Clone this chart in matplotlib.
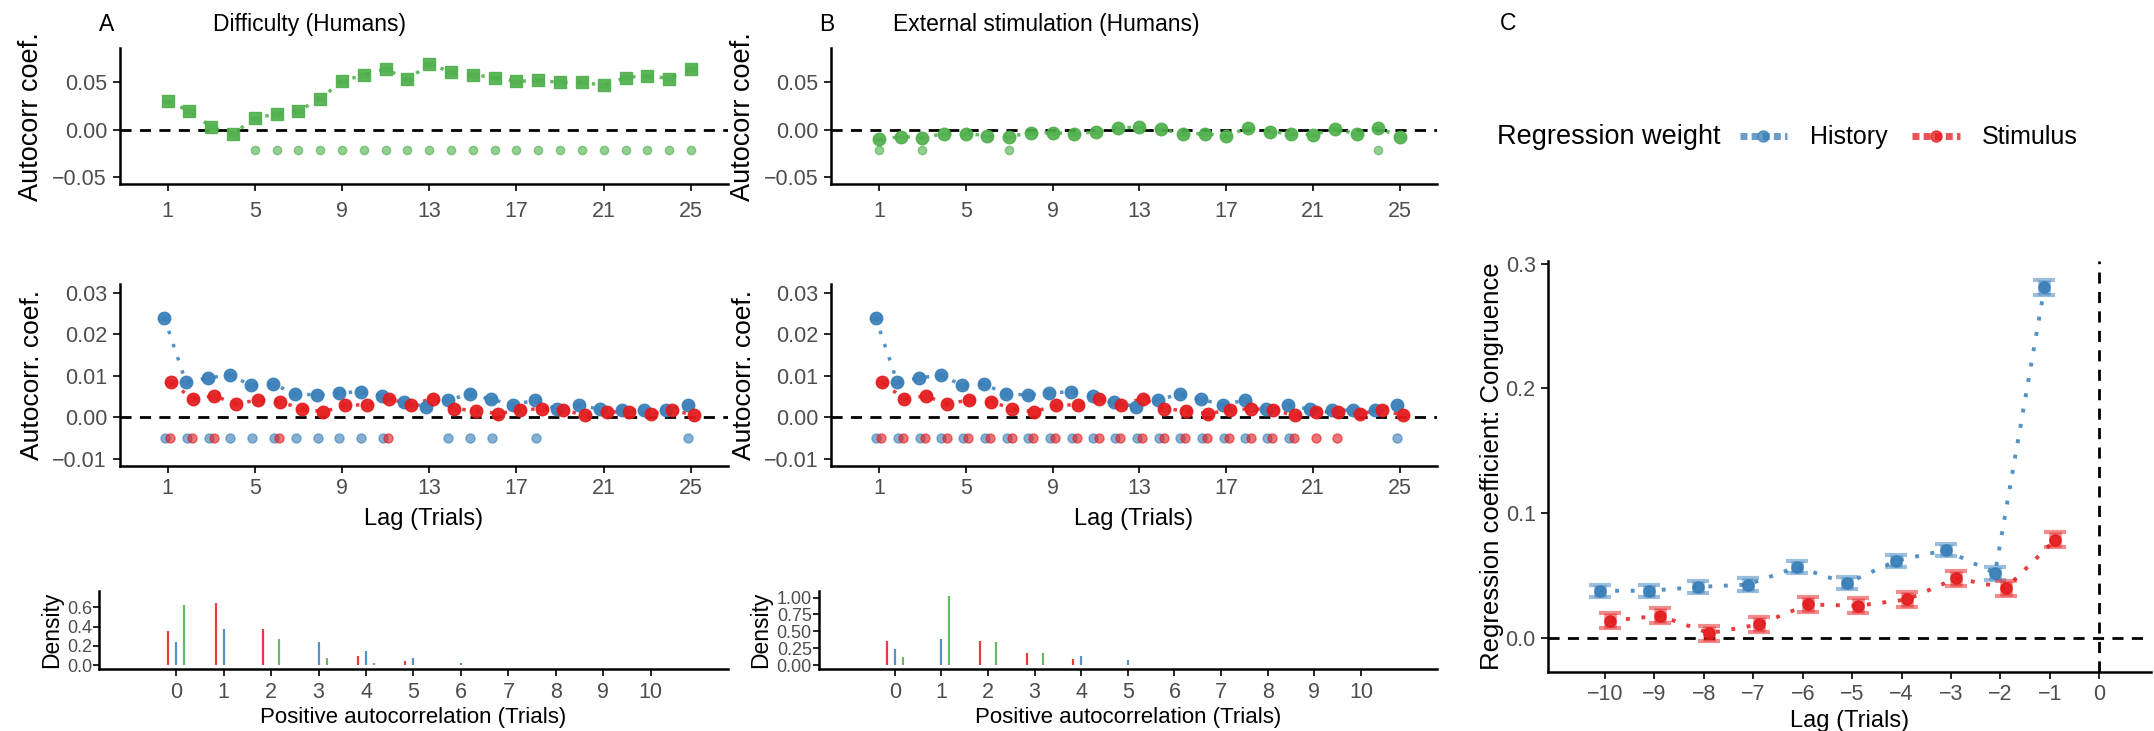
import numpy as np
import matplotlib.pyplot as plt
from matplotlib.lines import Line2D

plt.rcParams['font.family'] = ['Liberation Sans Narrow', 'Liberation Sans', 'DejaVu Sans']

BLUE = '#377EB8'
RED = '#E41A1C'
GREEN = '#4DAF4A'
TICK_GREY = '#4D4D4D'

# ---- data ----
lags = np.arange(1, 26)

diff_coef = [0.030, 0.020, 0.003, -0.004, 0.012, 0.017, 0.020, 0.033, 0.051, 0.058,
             0.064, 0.053, 0.069, 0.061, 0.058, 0.055, 0.051, 0.052, 0.050, 0.050,
             0.047, 0.055, 0.057, 0.054, 0.064]
diff_sig = list(range(5, 26))

ext_coef = [-0.010, -0.007, -0.008, -0.004, -0.004, -0.006, -0.007, -0.003, -0.003, -0.004,
            -0.002, 0.002, 0.003, 0.001, -0.004, -0.004, -0.006, 0.002, -0.002, -0.004,
            -0.005, 0.001, -0.004, 0.002, -0.007]
ext_sig = [1, 3, 7, 24]

hist_coef = [0.0240, 0.0084, 0.0095, 0.0101, 0.0077, 0.0080, 0.0056, 0.0054, 0.0058, 0.0062,
             0.0051, 0.0037, 0.0025, 0.0041, 0.0056, 0.0043, 0.0030, 0.0041, 0.0019, 0.0029,
             0.0019, 0.0017, 0.0017, 0.0017, 0.0029]
stim_coef = [0.0084, 0.0045, 0.0051, 0.0033, 0.0041, 0.0037, 0.0021, 0.0013, 0.0029, 0.0030,
             0.0045, 0.0030, 0.0045, 0.0021, 0.0015, 0.0009, 0.0017, 0.0021, 0.0017, 0.0005,
             0.0013, 0.0013, 0.0009, 0.0017, 0.0005]
hist_sig_a = [1, 2, 3, 4, 5, 6, 7, 8, 9, 10, 11, 14, 15, 16, 18, 25]
stim_sig_a = [1, 2, 3, 6, 11]
hist_sig_b = list(range(1, 21)) + [25]
stim_sig_b = list(range(1, 23))

# density of positive autocorrelation length
dens_x = np.arange(0, 11)
dens_a_stim = [0.355, 0.64, 0.377, 0, 0.095, 0.04, 0, 0, 0, 0, 0]
dens_a_hist = [0.24, 0.377, 0, 0.24, 0.15, 0.075, 0.025, 0, 0, 0, 0]
dens_a_diff = [0.62, 0, 0.267, 0.08, 0.02, 0, 0, 0, 0, 0, 0]
dens_b_stim = [0.36, 0, 0.36, 0.176, 0.086, 0, 0, 0, 0, 0, 0]
dens_b_hist = [0.235, 0.39, 0, 0, 0.137, 0.07, 0, 0, 0, 0, 0]
dens_b_ext = [0.125, 1.02, 0.345, 0.176, 0, 0, 0, 0, 0, 0, 0]

# panel C regression weights
lag_c = np.arange(-10, 0)
hist_c = [0.038, 0.038, 0.041, 0.043, 0.057, 0.044, 0.062, 0.0705, 0.052, 0.281]
hist_c_err = [0.005, 0.005, 0.005, 0.005, 0.005, 0.005, 0.005, 0.005, 0.005, 0.006]
stim_c = [0.014, 0.018, 0.004, 0.011, 0.027, 0.026, 0.031, 0.048, 0.040, 0.079]
stim_c_err = [0.006, 0.006, 0.006, 0.006, 0.006, 0.006, 0.006, 0.006, 0.006, 0.006]

W, H = 1568.0, 532.0


def box(l, r, t, b):
    return [l / W, 1 - b / H, (r - l) / W, (b - t) / H]


def style(ax):
    for s in ['top', 'right']:
        ax.spines[s].set_visible(False)
    for s in ['left', 'bottom']:
        ax.spines[s].set_linewidth(1.8)
    ax.tick_params(axis='both', labelsize=15.5, colors='black', labelcolor=TICK_GREY,
                   width=1.2, length=5, pad=4)


def fmt(v, d):
    s = f'{v:.{d}f}'
    return s.replace('-', '\u2212')


def points(ax, x, y, color, err, marker='o', ms=9):
    ax.plot(x, y, linestyle=(0, (1, 3)), color=color, lw=2.5, alpha=0.85, zorder=2)
    ax.errorbar(x, y, yerr=err, fmt='none', ecolor=color, elinewidth=8, alpha=0.5, zorder=3)
    ax.plot(x, y, marker, color=color, ms=ms, alpha=0.9, zorder=4, lw=0)


fig = plt.figure(figsize=(21.54, 7.31), dpi=100)


def top_panel(left, right, coef, sig, color, marker, err):
    ax = fig.add_axes(box(left, right, 35, 134))
    ax.axhline(0, color='black', ls=(0, (4, 3)), lw=2, zorder=1)
    points(ax, lags, coef, color, err, marker=marker, ms=9)
    ax.plot(sig, [-0.021] * len(sig), 'o', color=color, ms=6, alpha=0.6, lw=0)
    ax.set_xlim(-1.2, 26.7)
    ax.set_ylim(-0.057, 0.086)
    ax.set_xticks([1, 5, 9, 13, 17, 21, 25])
    ax.set_yticks([-0.05, 0, 0.05])
    ax.set_yticklabels([fmt(v, 2) for v in [-0.05, 0, 0.05]])
    ax.set_ylabel('Autocorr coef.', fontsize=19.5, labelpad=6)
    style(ax)
    ax.tick_params(axis='x', pad=7)
    return ax


def mid_panel(left, right, hs, ss):
    ax = fig.add_axes(box(left, right, 207, 339))
    ax.axhline(0, color='black', ls=(0, (4, 3)), lw=2, zorder=1)
    points(ax, lags - 0.15, hist_coef, BLUE, 0.0009)
    points(ax, lags + 0.15, stim_coef, RED, 0.0009)
    ax.plot(np.array(hs) - 0.12, [-0.005] * len(hs), 'o', color=BLUE, ms=6.5, alpha=0.6, lw=0)
    ax.plot(np.array(ss) + 0.12, [-0.005] * len(ss), 'o', color=RED, ms=6.5, alpha=0.6, lw=0)
    ax.set_xlim(-1.2, 26.7)
    ax.set_ylim(-0.0117, 0.032)
    ax.set_xticks([1, 5, 9, 13, 17, 21, 25])
    yt = [-0.01, 0, 0.01, 0.02, 0.03]
    ax.set_yticks(yt)
    ax.set_yticklabels([fmt(v, 2) for v in yt])
    ax.set_ylabel('Autocorr. coef.', fontsize=19, labelpad=6)
    ax.set_xlabel('Lag (Trials)', fontsize=17, labelpad=6)
    style(ax)
    return ax


def dens_panel(left, right, stim, hist, third, yt, dec, ylim):
    ax = fig.add_axes(box(left, right, 430, 487))
    ax.vlines(dens_x - 0.17, 0, stim, color=RED, lw=1.6, alpha=0.85)
    ax.vlines(dens_x, 0, hist, color=BLUE, lw=1.6, alpha=0.85)
    ax.vlines(dens_x + 0.17, 0, third, color=GREEN, lw=1.6, alpha=0.85)
    ax.set_xlim(-1.63, 11.63)
    ax.set_ylim(*ylim)
    ax.set_xticks(range(0, 11))
    ax.set_yticks(yt)
    ax.set_yticklabels([fmt(v, dec) for v in yt])
    ax.set_ylabel('Density', fontsize=16.5, labelpad=3)
    ax.set_xlabel('Positive autocorrelation (Trials)', fontsize=16, labelpad=3)
    style(ax)
    ax.tick_params(axis='y', labelsize=13, pad=1, length=4)
    return ax


# panel A
top_panel(87, 530, diff_coef, diff_sig, GREEN, 's', 0.003)
mid_panel(87, 530, hist_sig_a, stim_sig_a)
dens_panel(72, 530, dens_a_stim, dens_a_hist, dens_a_diff, [0, 0.2, 0.4, 0.6], 1, (-0.04, 0.77))

# panel B
top_panel(605, 1046, ext_coef, ext_sig, GREEN, 'o', 0.002)
mid_panel(605, 1046, hist_sig_b, stim_sig_b)
dens_panel(596, 1046, dens_b_stim, dens_b_hist, dens_b_ext, [0, 0.25, 0.5, 0.75, 1.0], 2,
           (-0.06, 1.1))

fig.text(72 / W, 1 - 18 / H, 'A', fontsize=16.5, va='center')
fig.text(155 / W, 1 - 18 / H, 'Difficulty (Humans)', fontsize=16.5, va='center')
fig.text(596 / W, 1 - 18 / H, 'B', fontsize=16.5, va='center')
fig.text(650 / W, 1 - 18 / H, 'External stimulation (Humans)', fontsize=16.5, va='center')
fig.text(1092 / W, 1 - 17 / H, 'C', fontsize=16.5, va='center')

# panel C
axc = fig.add_axes(box(1127, 1566, 190, 489))
axc.axhline(0, color='black', ls=(0, (4, 3)), lw=2, zorder=1)
axc.axvline(0, color='black', ls=(0, (4, 3)), lw=2, zorder=1)
for x, y, e, c in [(lag_c - 0.11, hist_c, hist_c_err, BLUE), (lag_c + 0.11, stim_c, stim_c_err, RED)]:
    axc.plot(x, y, linestyle=(0, (1, 3)), color=c, lw=2.8, alpha=0.85, zorder=2)
    axc.errorbar(x, y, yerr=e, fmt='none', ecolor=c, elinewidth=9, capsize=8, capthick=3,
                 alpha=0.5, zorder=3)
    axc.plot(x, y, 'o', color=c, ms=8, alpha=0.9, zorder=4, lw=0)
axc.set_xlim(-11.15, 1.05)
axc.set_ylim(-0.027, 0.302)
axc.set_xticks(range(-10, 1))
axc.set_xticklabels([fmt(v, 0) for v in range(-10, 1)])
axc.set_yticks([0, 0.1, 0.2, 0.3])
axc.set_yticklabels([fmt(v, 1) for v in [0, 0.1, 0.2, 0.3]])
axc.set_xlabel('Lag (Trials)', fontsize=17, labelpad=3)
axc.set_ylabel('Regression coefficient: Congruence', fontsize=18.5, labelpad=1)
style(axc)

fig.text(1090 / W, 1 - 100 / H, 'Regression weight', fontsize=19.5, va='center')
handles = [Line2D([], [], color=BLUE, lw=5, ls=(0, (1, 0.6)), marker='o', ms=8, alpha=0.75),
           Line2D([], [], color=RED, lw=5, ls=(0, (1, 0.6)), marker='o', ms=8, alpha=0.75)]
fig.legend(handles, ['History', 'Stimulus'], loc='center left',
           bbox_to_anchor=(1250 / W, 1 - 100 / H), ncol=2, frameon=False, fontsize=18,
           handlelength=1.9, columnspacing=1.0, handletextpad=0.9)

fig.savefig('out.png', dpi=100)
